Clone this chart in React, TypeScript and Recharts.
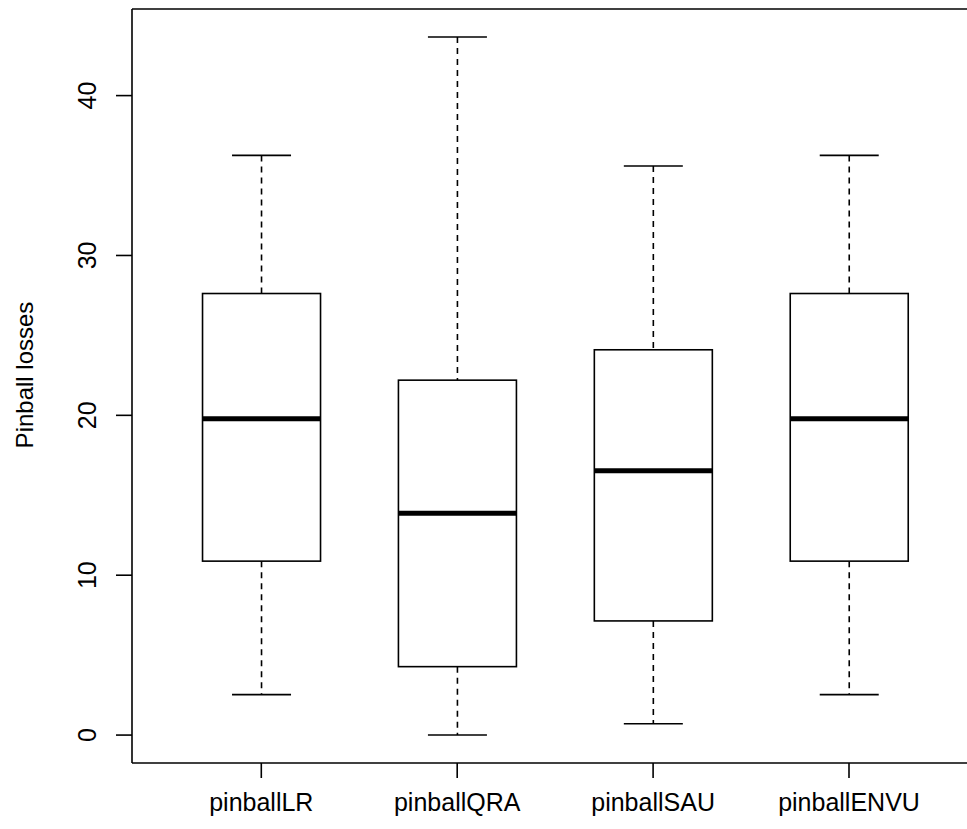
import React from 'react';
import { ComposedChart, Bar, XAxis, YAxis, ReferenceLine } from 'recharts';

const categories = ['pinballLR', 'pinballQRA', 'pinballSAU', 'pinballENVU'];
const whiskerLow = [2.53, 0.0, 0.71, 2.53];
const lowerQuartile = [10.88, 4.28, 7.14, 10.88];
const medians = [19.79, 13.87, 16.54, 19.79];
const upperQuartile = [27.62, 22.2, 24.1, 27.62];
const whiskerHigh = [36.26, 43.67, 35.6, 36.26];
const yTicks = [0, 10, 20, 30, 40];

const data = categories.map((name, i) => ({
  name,
  lo: whiskerLow[i],
  q1: lowerQuartile[i],
  med: medians[i],
  q3: upperQuartile[i],
  hi: whiskerHigh[i],
}));

const dataMin = Math.min(...whiskerLow);
const dataMax = Math.max(...whiskerHigh);
const ext = (dataMax - dataMin) * 0.04;
const yMin = dataMin - ext;
const yMax = dataMax + ext;

const FONT = '"Liberation Sans", Arial, Helvetica, sans-serif';
const INK = '#000';
const LW = 1.6;

const BoxShape = (props: any) => {
  const { x, y, width, height, payload } = props;
  if (!payload || !(height > 0)) return null;
  const k = height / (payload.q3 - payload.q1);
  const py = (v: number) => y + (payload.q3 - v) * k;
  const cx = x + width / 2;
  const capHalf = width / 4;
  const yHi = py(payload.hi);
  const yLo = py(payload.lo);
  const yMed = py(payload.med);
  return (
    <g>
      <line x1={cx} x2={cx} y1={yHi} y2={y} stroke={INK} strokeWidth={LW} strokeDasharray="6 5" />
      <line x1={cx} x2={cx} y1={y + height} y2={yLo} stroke={INK} strokeWidth={LW} strokeDasharray="6 5" />
      <line x1={cx - capHalf} x2={cx + capHalf} y1={yHi} y2={yHi} stroke={INK} strokeWidth={LW} />
      <line x1={cx - capHalf} x2={cx + capHalf} y1={yLo} y2={yLo} stroke={INK} strokeWidth={LW} />
      <rect x={x} y={y} width={width} height={height} fill="#fff" stroke={INK} strokeWidth={LW} />
      <line x1={x} x2={x + width} y1={yMed} y2={yMed} stroke={INK} strokeWidth={5} />
    </g>
  );
};

const XTick = (props: any) => {
  const { x, y, payload } = props;
  return (
    <text x={x} y={y + 31} textAnchor="middle" fontFamily={FONT} fontSize={25} fill={INK}>
      {payload.value}
    </text>
  );
};

const YTick = (props: any) => {
  const { y, payload } = props;
  const bx = 96;
  return (
    <text
      x={bx}
      y={y}
      textAnchor="middle"
      transform={`rotate(-90, ${bx}, ${y})`}
      fontFamily={FONT}
      fontSize={25}
      fill={INK}
    >
      {payload.value}
    </text>
  );
};

const YLabel = () => (
  <text
    x={33}
    y={375}
    textAnchor="middle"
    transform="rotate(-90, 33, 375)"
    fontFamily={FONT}
    fontSize={24}
    fill={INK}
  >
    Pinball losses
  </text>
);

export default function App() {
  return (
    <div style={{ position: 'absolute', left: 0, top: 0, width: 967, height: 829, overflow: 'hidden', background: '#fff' }}>
      <ComposedChart
        width={990}
        height={829}
        data={data}
        margin={{ top: 9, right: 11.7, left: 0, bottom: 0 }}
        barCategoryGap="20%"
      >
        <XAxis
          dataKey="name"
          type="category"
          height={66}
          padding={{ left: 31.35, right: 31.35 }}
          tickSize={15}
          tick={<XTick />}
          axisLine={{ stroke: INK, strokeWidth: LW }}
          tickLine={{ stroke: INK, strokeWidth: LW }}
          interval={0}
        />
        <YAxis
          type="number"
          domain={[yMin, yMax]}
          ticks={yTicks}
          width={132}
          tickSize={16}
          tick={<YTick />}
          axisLine={{ stroke: INK, strokeWidth: LW }}
          tickLine={{ stroke: INK, strokeWidth: LW }}
          allowDataOverflow
          interval={0}
          label={{ content: () => <YLabel /> }}
        />
        <ReferenceLine y={yMax} stroke={INK} strokeWidth={LW} ifOverflow="visible" />
        <Bar
          dataKey={(d: any) => [d.q1, d.q3]}
          shape={<BoxShape />}
          isAnimationActive={false}
        />
      </ComposedChart>
    </div>
  );
}
